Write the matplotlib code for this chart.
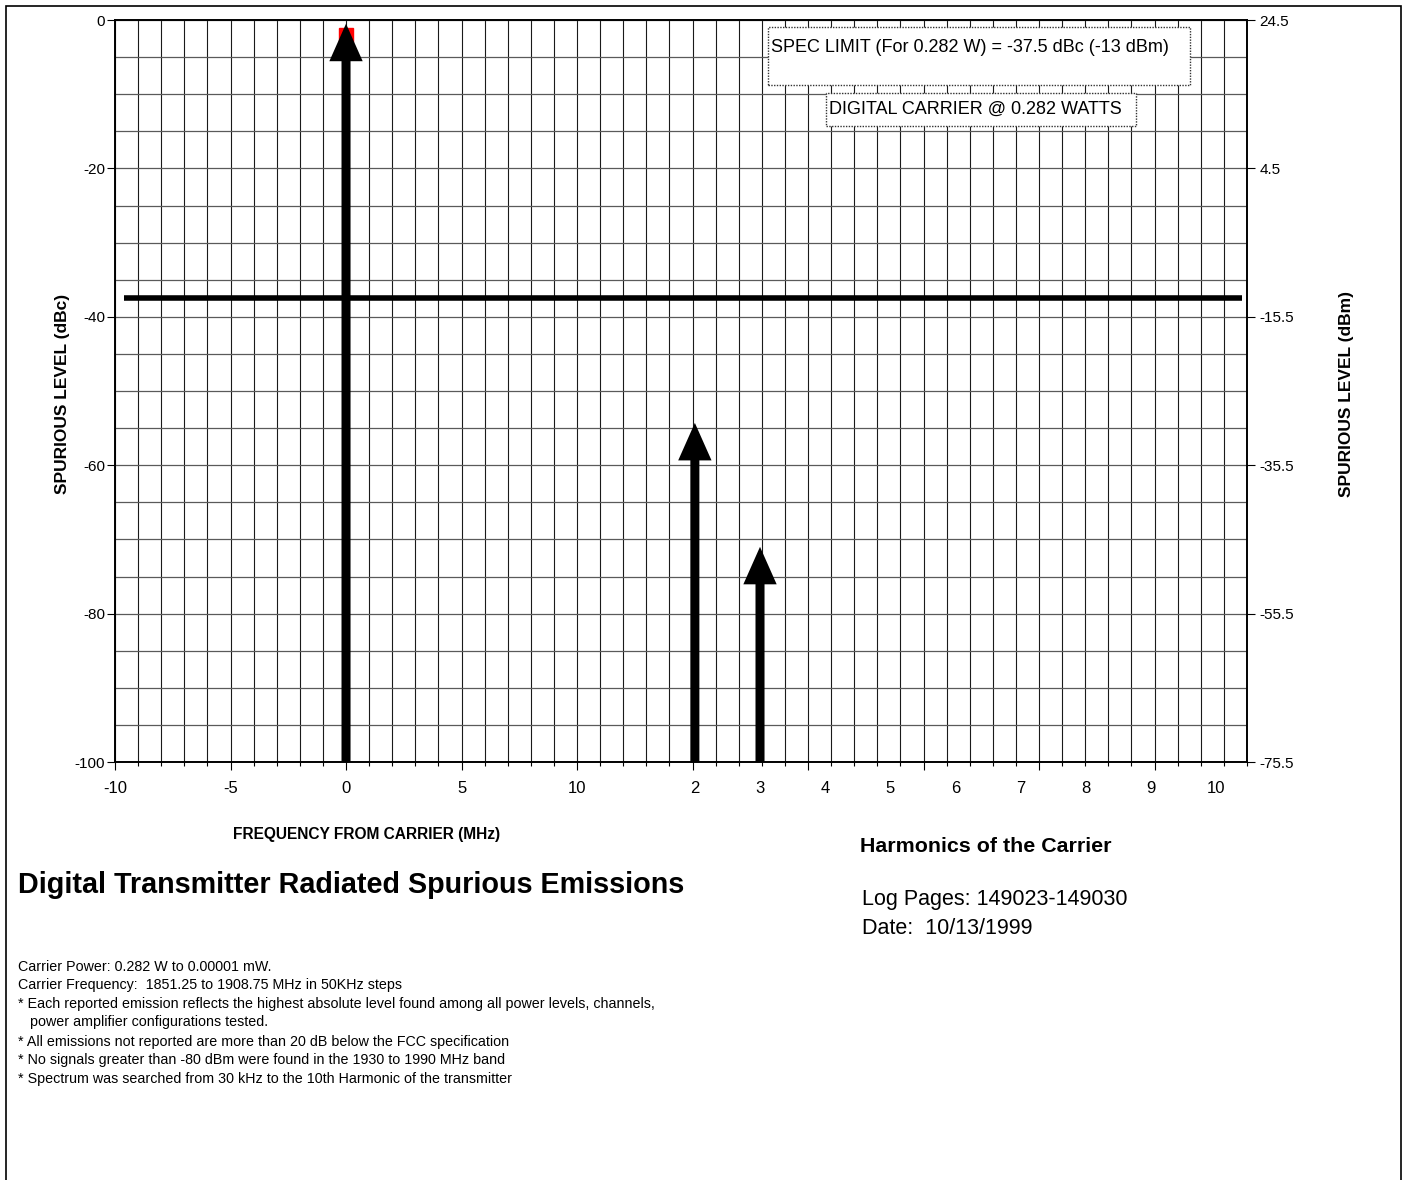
import matplotlib
matplotlib.use("Agg")
import matplotlib.pyplot as plt
from matplotlib.patches import FancyArrowPatch, ArrowStyle, Rectangle
from matplotlib.ticker import MultipleLocator, FixedLocator

plt.rcParams['font.family'] = ['Liberation Sans', 'DejaVu Sans']

# --- data ---
carrier_offset_mhz = [0]
carrier_level_dbc = [-0.5]
carrier_marker_dbc = [-2.0]
harmonic_numbers = [2, 3]
harmonic_levels_dbc = [-54.3, -71.0]
harmonic_labels = [2, 3, 4, 5, 6, 7, 8, 9, 10]
spec_limit_dbc = -37.5
dbm_offset = 24.5  # dBm = dBc + 24.5 for 0.282 W

left_ticks = [-100, -80, -60, -40, -20, 0]
freq_tick_labels = [-10, -5, 0, 5, 10]

notes = [
    "Carrier Power: 0.282 W to 0.00001 mW.",
    "Carrier Frequency:  1851.25 to 1908.75 MHz in 50KHz steps",
    "* Each reported emission reflects the highest absolute level found among all power levels, channels,",
    "   power amplifier configurations tested.",
    "* All emissions not reported are more than 20 dB below the FCC specification",
    "* No signals greater than -80 dBm were found in the 1930 to 1990 MHz band",
    "* Spectrum was searched from 30 kHz to the 10th Harmonic of the transmitter",
]

W, H = 1406, 1180


def px(x, y):
    return x / W, 1 - y / H


def harm_x(h):
    # harmonics share the axis after the +/-10 MHz part
    return 15.1 + (h - 2) * 2.82


fig = plt.figure(figsize=(W / 100, H / 100), dpi=100)
ax = fig.add_axes([115 / W, 1 - 762 / H, (1247 - 115) / W, 742 / H])
ax.set_xlim(-10, 39)
ax.set_ylim(-100, 0)

# grid
ax.xaxis.set_major_locator(MultipleLocator(5))
ax.xaxis.set_minor_locator(MultipleLocator(1))
ax.yaxis.set_major_locator(FixedLocator(left_ticks))
ax.yaxis.set_minor_locator(MultipleLocator(5))
ax.grid(True, which='both', axis='x', color='#1a1a1a', lw=0.8)
ax.grid(True, which='both', axis='y', color='#5a5a5a', lw=0.9)
ax.set_axisbelow(True)

xt = list(range(-10, 40, 5))
ax.set_xticks(xt)
ax.set_xticklabels([str(v) if v in freq_tick_labels else '' for v in xt], fontsize=12)
ax.set_yticks(left_ticks)
ax.set_yticklabels([str(v) for v in left_ticks], fontsize=11)
ax.tick_params(axis='x', which='major', direction='out', length=6, width=0.8, pad=8)
ax.tick_params(axis='x', which='minor', direction='out', length=3, width=0.8)
ax.tick_params(axis='y', which='major', direction='out', length=6, width=0.8, pad=1)
ax.tick_params(axis='y', which='minor', length=0)
for s in ax.spines.values():
    s.set_linewidth(1.2)

# right axis in dBm
ax2 = ax.twinx()
ax2.set_ylim(-100 + dbm_offset, 0 + dbm_offset)
right_ticks = [v + dbm_offset for v in left_ticks]
ax2.set_yticks(right_ticks)
ax2.set_yticklabels([f"{v:g}" for v in right_ticks], fontsize=11)
ax2.tick_params(axis='y', direction='out', length=6, width=0.8, pad=3)
for s in ax2.spines.values():
    s.set_linewidth(1.2)

# harmonic labels on the bottom axis
for h in harmonic_labels:
    ax.annotate(str(h), xy=(harm_x(h), 0), xycoords=('data', 'axes fraction'),
                xytext=(0, -14), textcoords='offset points',
                ha='center', va='top', fontsize=12)

# spec limit line
ax.plot([-9.6, 38.8], [spec_limit_dbc, spec_limit_dbc], color='black', lw=4,
        solid_capstyle='butt', zorder=4, clip_on=False)

# carrier marker
ax.plot(carrier_offset_mhz, carrier_marker_dbc, 's', color='red', ms=10,
        zorder=3, clip_on=False)

arrow_style = ArrowStyle.Simple(head_length=27, head_width=24, tail_width=6.5)
xs = list(carrier_offset_mhz) + [harm_x(h) for h in harmonic_numbers]
tops = list(carrier_level_dbc) + list(harmonic_levels_dbc)
for x, top in zip(xs, tops):
    arr = FancyArrowPatch(posA=(x, -100), posB=(x, top), arrowstyle=arrow_style,
                          mutation_scale=1, color='black', lw=0,
                          shrinkA=0, shrinkB=0, zorder=5, clip_on=False)
    ax.add_patch(arr)

# text boxes on the plot
for (x0, y0, x1, y1) in [(768, 27, 1190, 85), (826, 93, 1136, 126)]:
    fx0, fy1 = px(x0, y1)
    fx1, fy0 = px(x1, y0)
    fig.patches.append(Rectangle((fx0, fy1), fx1 - fx0, fy0 - fy1,
                                 transform=fig.transFigure, facecolor='white',
                                 edgecolor='#333333', lw=1.0, ls=(0, (1, 1)),
                                 zorder=6))
fig.text(*px(771, 48), "SPEC LIMIT (For 0.282 W) = -37.5 dBc (-13 dBm)",
         fontsize=13, ha='left', va='center', zorder=7)
fig.text(*px(829, 109), "DIGITAL CARRIER @ 0.282 WATTS",
         fontsize=13, ha='left', va='center', zorder=7)

# axis titles
fig.text(*px(62, 394), "SPURIOUS LEVEL (dBc)", rotation=90, fontsize=12.5,
         fontweight='bold', ha='center', va='center')
fig.text(*px(1346, 394), "SPURIOUS LEVEL (dBm)", rotation=90, fontsize=12.5,
         fontweight='bold', ha='center', va='center')
fig.text(*px(367, 834), "FREQUENCY FROM CARRIER (MHz)", fontsize=11.2,
         fontweight='bold', ha='center', va='center')
fig.text(*px(860, 847), "Harmonics of the Carrier", fontsize=15.4,
         fontweight='bold', ha='left', va='center')

fig.text(*px(18, 885), "Digital Transmitter Radiated Spurious Emissions",
         fontsize=20.7, fontweight='bold', ha='left', va='center')

fig.text(*px(862, 900), "Log Pages: 149023-149030", fontsize=15.5, ha='left', va='center')
fig.text(*px(862, 929), "Date:  10/13/1999", fontsize=15.5, ha='left', va='center')

note_y = [967, 985, 1004, 1022, 1042, 1060, 1079]
for y, line in zip(note_y, notes):
    fig.text(*px(18, y), line, fontsize=10.3, ha='left', va='center')

# outer border
bx0, by0 = px(6, 1190)
bx1, by1 = px(1401, 6)
fig.patches.append(Rectangle((bx0, by0), bx1 - bx0, by1 - by0,
                             transform=fig.transFigure, fill=False,
                             edgecolor='black', lw=1.2, zorder=8))

fig.savefig("out.png", dpi=100)
